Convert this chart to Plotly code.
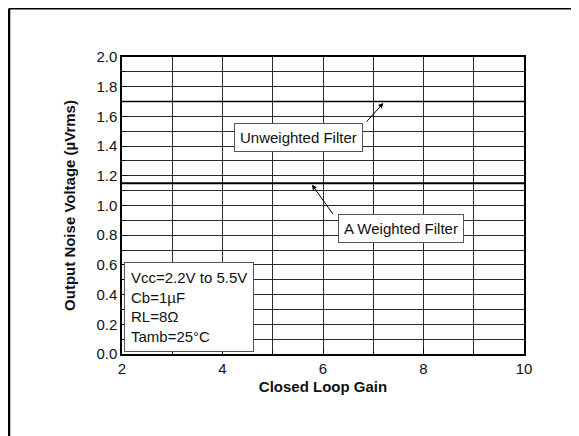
import plotly.graph_objects as go

# Valeurs
gain = [2, 10]
unweighted = [1.7, 1.7]
a_weighted = [1.15, 1.15]

x_ticks = [2, 4, 6, 8, 10]
y_ticks = [0.0, 0.2, 0.4, 0.6, 0.8, 1.0, 1.2, 1.4, 1.6, 1.8, 2.0]

conditions = ["Vcc=2.2V to 5.5V", "Cb=1µF", "RL=8Ω", "Tamb=25°C"]

FONT = "Liberation Sans, Arial, sans-serif"
TXT = "#111111"

fig = go.Figure()

fig.add_trace(
    go.Scatter(x=gain, y=unweighted, mode="lines",
               line=dict(color="black", width=1.5), name="Unweighted Filter")
)
fig.add_trace(
    go.Scatter(x=gain, y=a_weighted, mode="lines",
               line=dict(color="black", width=2), name="A Weighted Filter")
)

# Etiquettes encadrées
box = dict(showarrow=False, bgcolor="white", bordercolor="#555555",
           borderwidth=1, borderpad=5, font=dict(family=FONT, size=15, color=TXT))
fig.add_annotation(x=5.52, y=1.455, text="Unweighted Filter", **box)
fig.add_annotation(x=7.56, y=0.845, text="A Weighted Filter", **box)
fig.add_annotation(x=2.04, y=0.015, xanchor="left", yanchor="bottom",
                   align="left", text="<br>".join(conditions),
                   showarrow=False, bgcolor="white", bordercolor="#555555",
                   borderwidth=1, borderpad=6,
                   font=dict(family=FONT, size=15, color=TXT))

# Flèches
arrow = dict(text="", showarrow=True, arrowhead=2, arrowsize=1, arrowwidth=1,
             arrowcolor="black", axref="x", ayref="y", standoff=0, startstandoff=0)
fig.add_annotation(x=7.2, y=1.69, ax=6.84, ay=1.554, **arrow)
fig.add_annotation(x=5.78, y=1.14, ax=6.22, ay=0.932, **arrow)

# Cadre extérieur (haut et gauche)
fig.add_shape(type="line", xref="paper", yref="paper",
              x0=-0.281, x1=1.2, y0=1.163, y1=1.163,
              line=dict(color="black", width=2))
fig.add_shape(type="line", xref="paper", yref="paper",
              x0=-0.281, x1=-0.281, y0=1.163, y1=-0.3,
              line=dict(color="black", width=2.5))

# la page ajoute 8 px de marge autour de la figure
fig.update_layout(
    width=571,
    height=428,
    margin=dict(l=114, r=55, t=49, b=82),
    plot_bgcolor="white",
    paper_bgcolor="white",
    showlegend=False,
    font=dict(family=FONT, size=15, color=TXT),
)

fig.update_xaxes(
    range=[2, 10],
    tickvals=x_ticks,
    ticks="inside", ticklen=5, tickcolor="black",
    showgrid=True, gridcolor="#2a2a2a", gridwidth=1,
    minor=dict(dtick=1, showgrid=True, gridcolor="#2a2a2a",
               ticks="inside", ticklen=3, tickcolor="black"),
    showline=True, linecolor="black", linewidth=1.5, mirror=True,
    zeroline=False,
    title=dict(text="<b>Closed Loop Gain</b>", standoff=6,
               font=dict(family=FONT, size=15, color=TXT)),
    tickfont=dict(family=FONT, size=15, color=TXT),
)

fig.update_yaxes(
    range=[0, 2],
    tickvals=y_ticks,
    tickformat=".1f",
    ticks="inside", ticklen=5, tickcolor="black",
    showgrid=True, gridcolor="#2a2a2a", gridwidth=1,
    minor=dict(dtick=0.1, showgrid=True, gridcolor="#2a2a2a",
               ticks="inside", ticklen=3, tickcolor="black"),
    showline=True, linecolor="black", linewidth=1.5, mirror=True,
    zeroline=False,
    title=dict(text="<b>Output Noise Voltage (µVrms)</b>", standoff=17,
               font=dict(family=FONT, size=15, color=TXT)),
    tickfont=dict(family=FONT, size=15, color=TXT),
)

fig.write_html("out.html")
